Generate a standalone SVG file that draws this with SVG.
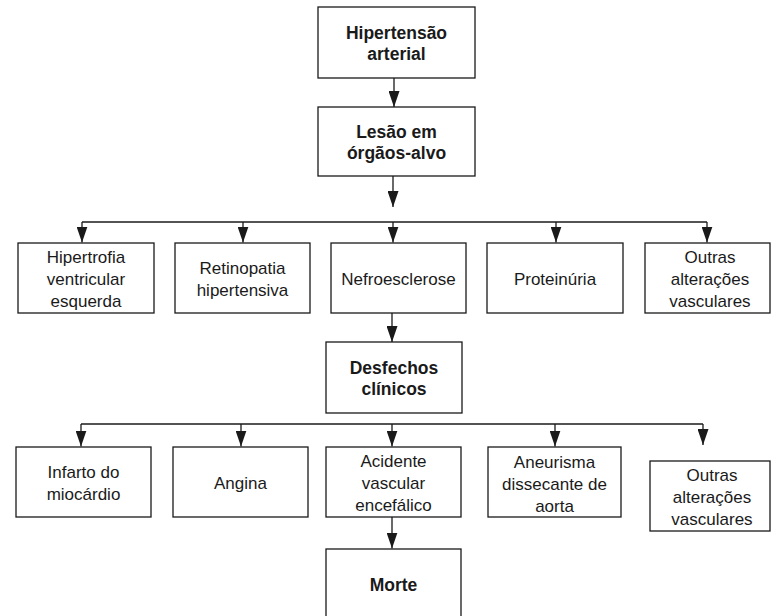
<svg xmlns="http://www.w3.org/2000/svg" width="771" height="616" viewBox="0 0 771 616">
<style>
.box{fill:#fff;stroke:#1a1a1a;stroke-width:1.3}
.t{font-family:"Liberation Sans",Arial,sans-serif;font-size:17px;fill:#1a1a1a;text-anchor:middle}
.b{font-weight:bold;font-size:17.5px}
.c{fill:none;stroke:#1a1a1a;stroke-width:1.3}
</style>
<defs>
<marker id="ah" markerUnits="userSpaceOnUse" markerWidth="16" markerHeight="11" refX="16" refY="5.5" orient="auto">
<path d="M0,0 L16,5.5 L0,11 z" fill="#1a1a1a"/>
</marker>
</defs>
<rect width="771" height="616" fill="#fff"/>
<g id="connectors">
<line class="c" x1="394" y1="78" x2="394" y2="107" marker-end="url(#ah)"/>
<line class="c" x1="393" y1="176" x2="393" y2="207" marker-end="url(#ah)"/>
<line class="c" x1="82" y1="222" x2="707" y2="222"/>
<line class="c" x1="82" y1="222" x2="82" y2="242.5" marker-end="url(#ah)"/>
<line class="c" x1="243" y1="222" x2="243" y2="242.5" marker-end="url(#ah)"/>
<line class="c" x1="393" y1="222" x2="393" y2="242.5" marker-end="url(#ah)"/>
<line class="c" x1="556" y1="222" x2="556" y2="242.5" marker-end="url(#ah)"/>
<line class="c" x1="707" y1="222" x2="707" y2="242.5" marker-end="url(#ah)"/>
<line class="c" x1="392" y1="313" x2="392" y2="342" marker-end="url(#ah)"/>
<line class="c" x1="81" y1="424" x2="703" y2="424"/>
<line class="c" x1="81" y1="424" x2="81" y2="446.5" marker-end="url(#ah)"/>
<line class="c" x1="241" y1="424" x2="241" y2="446.5" marker-end="url(#ah)"/>
<line class="c" x1="392" y1="424" x2="392" y2="446.5" marker-end="url(#ah)"/>
<line class="c" x1="555" y1="424" x2="555" y2="446.5" marker-end="url(#ah)"/>
<line class="c" x1="703" y1="424" x2="703" y2="445" marker-end="url(#ah)"/>
<line class="c" x1="392" y1="517" x2="392" y2="548.5" marker-end="url(#ah)"/>
</g>
<g id="hipertensao">
<rect class="box" x="318" y="7" width="157" height="71"/>
<text class="t b" x="396.5" y="39">Hipertensão</text>
<text class="t b" x="396.5" y="60">arterial</text>
</g>
<g id="lesao">
<rect class="box" x="318" y="107" width="157" height="69"/>
<text class="t b" x="396.5" y="138">Lesão em</text>
<text class="t b" x="396.5" y="159">órgãos-alvo</text>
</g>
<g id="hve">
<rect class="box" x="18" y="243" width="136" height="70"/>
<text class="t" x="86" y="263">Hipertrofia</text>
<text class="t" x="86" y="285">ventricular</text>
<text class="t" x="86" y="307">esquerda</text>
</g>
<g id="retinopatia">
<rect class="box" x="175" y="243" width="135" height="70"/>
<text class="t" x="242.5" y="274">Retinopatia</text>
<text class="t" x="242.5" y="296">hipertensiva</text>
</g>
<g id="nefroesclerose">
<rect class="box" x="331" y="243" width="135" height="70"/>
<text class="t" x="398.5" y="285">Nefroesclerose</text>
</g>
<g id="proteinuria">
<rect class="box" x="487" y="243" width="136" height="70"/>
<text class="t" x="555" y="285">Proteinúria</text>
</g>
<g id="outras1">
<rect class="box" x="645" y="243" width="125" height="70"/>
<text class="t" x="710" y="263">Outras</text>
<text class="t" x="710" y="285">alterações</text>
<text class="t" x="710" y="307">vasculares</text>
</g>
<g id="desfechos">
<rect class="box" x="326" y="342" width="136" height="71"/>
<text class="t b" x="394" y="374">Desfechos</text>
<text class="t b" x="394" y="395">clínicos</text>
</g>
<g id="infarto">
<rect class="box" x="16" y="447" width="135" height="70"/>
<text class="t" x="83.5" y="478">Infarto do</text>
<text class="t" x="83.5" y="500">miocárdio</text>
</g>
<g id="angina">
<rect class="box" x="173" y="447" width="135" height="70"/>
<text class="t" x="240.5" y="489">Angina</text>
</g>
<g id="avc">
<rect class="box" x="326" y="447" width="135" height="70"/>
<text class="t" x="393.5" y="467">Acidente</text>
<text class="t" x="393.5" y="489">vascular</text>
<text class="t" x="393.5" y="511">encefálico</text>
</g>
<g id="aneurisma">
<rect class="box" x="488" y="447" width="133" height="70"/>
<text class="t" x="554.5" y="468">Aneurisma</text>
<text class="t" x="554.5" y="490">dissecante de</text>
<text class="t" x="554.5" y="512">aorta</text>
</g>
<g id="outras2">
<rect class="box" x="650" y="461" width="120" height="70"/>
<text class="t" x="712" y="481">Outras</text>
<text class="t" x="712" y="503">alterações</text>
<text class="t" x="712" y="525">vasculares</text>
</g>
<g id="morte">
<rect class="box" x="326" y="549" width="135" height="71"/>
<text class="t b" x="393.5" y="591">Morte</text>
</g>
</svg>
